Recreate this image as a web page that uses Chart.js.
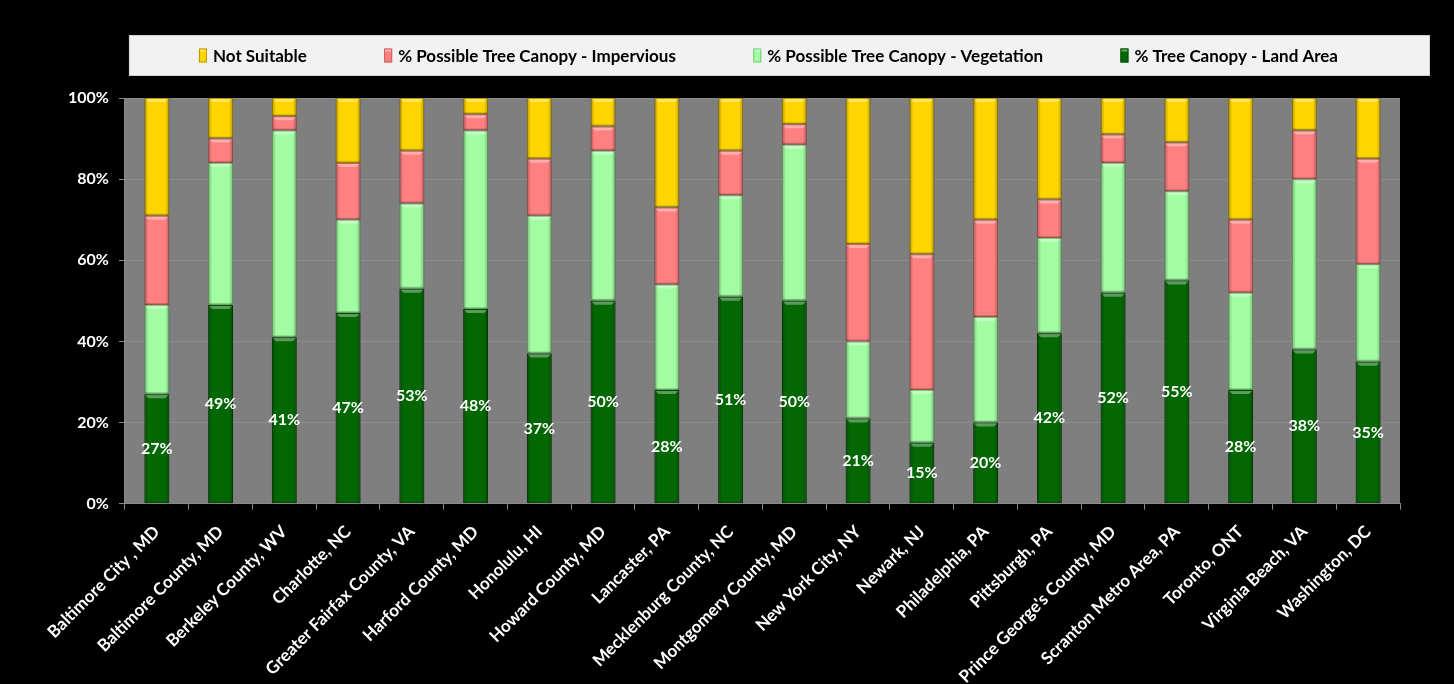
<!DOCTYPE html>
<html>
<head>
<meta charset="utf-8">
<script src="https://cdn.jsdelivr.net/npm/chart.js@4/dist/chart.umd.min.js"></script>
<style>
  html, body { margin: 0; padding: 0; background: #000; }
  #wrap { width: 1454px; height: 684px; }
</style>
</head>
<body>
<div id="wrap"><canvas id="c" width="1454" height="684"></canvas></div>
<script>
// Urban tree canopy assessment: share of land by category (%)
const categories = [
  "Baltimore City , MD", "Baltimore County, MD", "Berkeley County, WV", "Charlotte, NC",
  "Greater Fairfax County, VA", "Harford County, MD", "Honolulu, HI", "Howard County, MD",
  "Lancaster, PA", "Mecklenburg County, NC", "Montgomery County, MD", "New York City, NY",
  "Newark, NJ", "Philadelphia, PA", "Pittsburgh, PA", "Prince George's County, MD",
  "Scranton Metro Area, PA", "Toronto, ONT", "Virginia Beach, VA", "Washington, DC"
];
const treeCanopyLand = [27, 49, 41, 47, 53, 48, 37, 50, 28, 51, 50, 21, 15, 20, 42, 52, 55, 28, 38, 35];
const possibleVegetation = [22, 35, 51, 23, 21, 44, 34, 37, 26, 25, 38.5, 19, 13, 26, 23.5, 32, 22, 24, 42, 24];
const possibleImpervious = [22, 6, 3.5, 14, 13, 4, 14, 6, 19, 11, 5, 24, 33.5, 24, 9.5, 7, 12, 18, 12, 26];
const notSuitable = [29, 10, 4.5, 16, 13, 4, 15, 7, 27, 13, 6.5, 36, 38.5, 30, 25, 9, 11, 30, 8, 15];
const yTicks = [0, 20, 40, 60, 80, 100];

const FONT = "Lato, 'Open Sans', 'DejaVu Sans', sans-serif";

// Background: black canvas, grey plot area
const backdrop = {
  id: 'backdrop',
  beforeDraw(chart) {
    const {ctx, chartArea: a} = chart;
    ctx.save();
    ctx.fillStyle = '#000';
    ctx.fillRect(0, 0, chart.width, chart.height);
    ctx.fillStyle = '#7f7f7f';
    ctx.fillRect(a.left, a.top, a.right - a.left, a.bottom - a.top);
    ctx.restore();
  }
};

// Bevelled look on each stacked segment
const bevel = {
  id: 'bevel',
  afterDatasetsDraw(chart) {
    const ctx = chart.ctx;
    ctx.save();
    chart.data.datasets.forEach((ds, di) => {
      const meta = chart.getDatasetMeta(di);
      meta.data.forEach(el => {
        const p = el.getProps(['x', 'y', 'base', 'width'], true);
        const l = p.x - p.width / 2, r = p.x + p.width / 2;
        const t = Math.min(p.y, p.base), b = Math.max(p.y, p.base);
        if (b - t < 3) return;
        // side shading
        let g = ctx.createLinearGradient(l, 0, l + 4, 0);
        g.addColorStop(0, 'rgba(0,0,0,0.28)');
        g.addColorStop(1, 'rgba(0,0,0,0)');
        ctx.fillStyle = g;
        ctx.fillRect(l, t, 4, b - t);
        g = ctx.createLinearGradient(r, 0, r - 4, 0);
        g.addColorStop(0, 'rgba(0,0,0,0.28)');
        g.addColorStop(1, 'rgba(0,0,0,0)');
        ctx.fillStyle = g;
        ctx.fillRect(r - 4, t, 4, b - t);
        // top highlight
        ctx.fillStyle = 'rgba(255,255,255,0.35)';
        ctx.beginPath();
        ctx.moveTo(l + 1, t + 1);
        ctx.lineTo(r - 1, t + 1);
        ctx.lineTo(r - 4, t + 4);
        ctx.lineTo(l + 4, t + 4);
        ctx.closePath();
        ctx.fill();
        // bottom shadow
        ctx.fillStyle = 'rgba(0,0,0,0.18)';
        ctx.fillRect(l + 1, b - 2, r - l - 2, 2);
      });
    });
    ctx.restore();
  }
};

// Percent labels inside the tree canopy segment
const canopyLabels = {
  id: 'canopyLabels',
  afterDatasetsDraw(chart) {
    const ctx = chart.ctx;
    const meta = chart.getDatasetMeta(0);
    ctx.save();
    ctx.font = "bold 16px " + FONT;
    ctx.fillStyle = '#fff';
    ctx.textAlign = 'center';
    ctx.textBaseline = 'middle';
    meta.data.forEach((el, i) => {
      const p = el.getProps(['x', 'y', 'base'], true);
      ctx.fillText(Math.round(chart.data.datasets[0].data[i]) + '%', p.x, (p.y + p.base) / 2);
    });
    ctx.restore();
  }
};

// Legend panel above the plot
const legendPanel = {
  id: 'legendPanel',
  afterDraw(chart) {
    const {ctx, chartArea: a} = chart;
    const boxL = a.left + 4, boxR = a.right + 30, boxT = a.top - 63, boxH = 41;
    ctx.save();
    ctx.fillStyle = '#f2f2f2';
    ctx.fillRect(boxL, boxT, boxR - boxL, boxH);
    ctx.strokeStyle = '#d0d0d0';
    ctx.lineWidth = 1;
    ctx.strokeRect(boxL + 0.5, boxT + 0.5, boxR - boxL - 1, boxH - 1);
    ctx.font = "bold 17px " + FONT;
    ctx.textBaseline = 'middle';
    ctx.textAlign = 'left';
    const items = chart.data.datasets.slice().reverse();
    const mw = 8, gapTxt = 6;
    const widths = items.map(d => mw + gapTxt + ctx.measureText(d.label).width);
    const startX = boxL + 70, endX = boxR - 92;
    const total = widths.reduce((s, w) => s + w, 0);
    const gap = (endX - startX - total) / (items.length - 1);
    let x = startX;
    const cy = boxT + boxH / 2;
    items.forEach((d, i) => {
      ctx.fillStyle = d.backgroundColor;
      ctx.fillRect(x, cy - 7, mw, 14);
      ctx.strokeStyle = d.borderColor;
      ctx.strokeRect(x + 0.5, cy - 6.5, mw - 1, 13);
      ctx.fillStyle = 'rgba(255,255,255,0.4)';
      ctx.fillRect(x + 1, cy - 6, mw - 2, 2);
      ctx.fillStyle = '#000';
      ctx.fillText(d.label, x + mw + gapTxt, cy + 1);
      x += widths[i] + gap;
    });
    ctx.restore();
  }
};

const mk = (label, data, bg, border) => ({
  label, data, backgroundColor: bg, borderColor: border, borderWidth: 1,
  borderSkipped: false, categoryPercentage: 1, barPercentage: 0.39
});

new Chart(document.getElementById('c'), {
  type: 'bar',
  data: {
    labels: categories,
    datasets: [
      mk('% Tree Canopy - Land Area', treeCanopyLand, '#036803', '#024a02'),
      mk('% Possible Tree Canopy - Vegetation', possibleVegetation, '#a2fca2', '#78c878'),
      mk('% Possible Tree Canopy - Impervious', possibleImpervious, '#ff8080', '#c86060'),
      mk('Not Suitable', notSuitable, '#ffd500', '#b89a00')
    ]
  },
  options: {
    responsive: false,
    animation: false,
    devicePixelRatio: 1,
    layout: { padding: { top: 98, left: 58, right: 54, bottom: -15 } },
    plugins: {
      legend: { display: false },
      tooltip: { enabled: false }
    },
    scales: {
      x: {
        stacked: true,
        grid: { display: true, drawOnChartArea: false, color: '#8a8a8a', tickLength: 6, offset: true },
        border: { color: '#8a8a8a' },
        ticks: {
          color: '#fff', autoSkip: false, minRotation: 45, maxRotation: 45, padding: 12,
          font: { family: FONT, size: 17, weight: 'bold' }
        }
      },
      y: {
        stacked: true,
        min: 0, max: 100,
        afterBuildTicks(axis) { axis.ticks = yTicks.map(v => ({ value: v })); },
        grid: { color: '#8c8c8c', tickColor: '#8a8a8a', tickLength: 6 },
        border: { color: '#8a8a8a' },
        ticks: {
          color: '#fff', padding: 10,
          font: { family: FONT, size: 16, weight: 'bold' },
          callback: v => v + '%'
        }
      }
    }
  },
  plugins: [backdrop, bevel, canopyLabels, legendPanel]
});
</script>
</body>
</html>
